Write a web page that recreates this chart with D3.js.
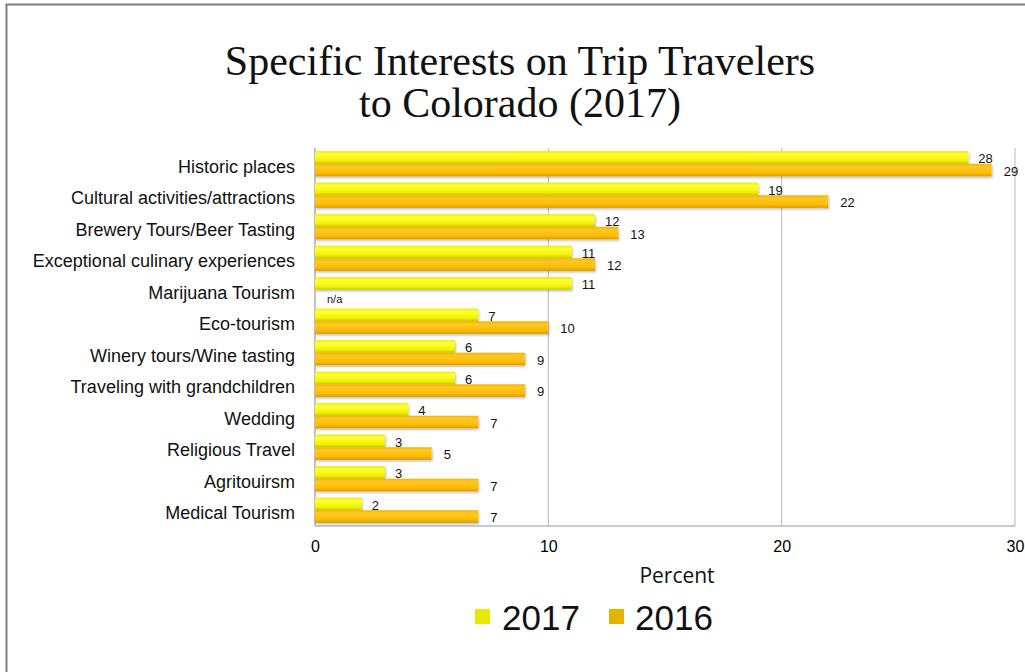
<!DOCTYPE html>
<html>
<head>
<meta charset="utf-8">
<script src="https://cdn.jsdelivr.net/npm/d3@7"></script>
<style>
  html, body { margin: 0; padding: 0; background: #fff; }
  svg { display: block; }
</style>
</head>
<body>
<svg id="chart" width="1025" height="672"></svg>
<script>
// ---- data ----
const categories = [
  "Historic places",
  "Cultural activities/attractions",
  "Brewery Tours/Beer Tasting",
  "Exceptional culinary experiences",
  "Marijuana Tourism",
  "Eco-tourism",
  "Winery tours/Wine tasting",
  "Traveling with grandchildren",
  "Wedding",
  "Religious Travel",
  "Agritouirsm",
  "Medical Tourism"
];
const values2017 = [28, 19, 12, 11, 11, 7, 6, 6, 4, 3, 3, 2];
const values2016 = [29, 22, 13, 12, null, 10, 9, 9, 7, 5, 7, 7];
const seriesNames = ["2017", "2016"];
const xTicks = [0, 10, 20, 30];
const titleLines = ["Specific Interests on Trip Travelers", "to Colorado (2017)"];
const xAxisTitle = "Percent";
const naLabel = "n/a";

// ---- layout ----
const svg = d3.select("#chart");
const plot = { left: 315, right: 1015, top: 148, bottom: 526 };

// slide frame
svg.append("rect")
  .attr("x", 6.5).attr("y", 4.5)
  .attr("width", 1040).attr("height", 700)
  .attr("fill", "#fff").attr("stroke", "#808080").attr("stroke-width", 2);

const defs = svg.append("defs");
const g17 = defs.append("linearGradient").attr("id", "g17").attr("x1", 0).attr("y1", 0).attr("x2", 0).attr("y2", 1);
[["0%", "#eeee00"], ["25%", "#ffff3a"], ["75%", "#f2f200"], ["100%", "#c9c900"]]
  .forEach(([o, c]) => g17.append("stop").attr("offset", o).attr("stop-color", c));
const g16 = defs.append("linearGradient").attr("id", "g16").attr("x1", 0).attr("y1", 0).attr("x2", 0).attr("y2", 1);
[["0%", "#f5b400"], ["25%", "#ffc826"], ["75%", "#fcbb00"], ["100%", "#d99a00"]]
  .forEach(([o, c]) => g16.append("stop").attr("offset", o).attr("stop-color", c));
const shadow = defs.append("filter").attr("id", "shadow").attr("x", "-5%").attr("y", "-30%").attr("width", "110%").attr("height", "180%");
shadow.append("feDropShadow").attr("dx", 1).attr("dy", 1.5).attr("stdDeviation", 1)
  .attr("flood-color", "#000").attr("flood-opacity", 0.25);

// title (two separate lines)
svg.append("g").selectAll("text").data(titleLines).join("text")
  .attr("x", 520).attr("y", (d, i) => 75 + i * 42)
  .attr("text-anchor", "middle")
  .attr("font-family", "'Liberation Serif', 'Times New Roman', serif")
  .attr("font-size", 42).attr("fill", "#111")
  .text(d => d);

// scales
const x = d3.scaleLinear().domain([0, 30]).range([plot.left, plot.right]);
const y = d3.scaleBand().domain(categories).range([plot.top, plot.bottom])
  .paddingInner(0.2).paddingOuter(0.1);
const ySub = d3.scaleBand().domain(seriesNames).range([0, y.bandwidth()]);

// gridlines
svg.append("g").selectAll("line").data(xTicks.filter(d => d > 0)).join("line")
  .attr("x1", d => x(d)).attr("x2", d => x(d))
  .attr("y1", plot.top).attr("y2", plot.bottom)
  .attr("stroke", "#b8b8b8").attr("stroke-width", 1);

// axis lines
svg.append("line").attr("x1", plot.left).attr("x2", plot.left)
  .attr("y1", plot.top).attr("y2", plot.bottom).attr("stroke", "#999").attr("stroke-width", 1.2);
svg.append("line").attr("x1", plot.left).attr("x2", plot.right)
  .attr("y1", plot.bottom).attr("y2", plot.bottom).attr("stroke", "#999").attr("stroke-width", 1.2);

// x axis tick labels via d3 axis
const xAxis = svg.append("g")
  .attr("transform", `translate(0,${plot.bottom})`)
  .call(d3.axisBottom(x).tickValues(xTicks).tickSize(0).tickPadding(15).tickFormat(d3.format("d")));
xAxis.select(".domain").remove();
xAxis.selectAll("text")
  .attr("font-family", "'Liberation Sans', Arial, sans-serif")
  .attr("font-size", 16).attr("fill", "#000");

// y axis labels
const yAxis = svg.append("g")
  .attr("transform", `translate(${plot.left},0)`)
  .call(d3.axisLeft(y).tickSize(0).tickPadding(20));
yAxis.select(".domain").remove();
yAxis.selectAll("text")
  .attr("font-family", "'Liberation Sans', Arial, sans-serif")
  .attr("font-size", 18).attr("fill", "#111")
  .attr("dy", "0.5em");

// bars
const rows = categories.map((c, i) => ({ cat: c, v17: values2017[i], v16: values2016[i] }));
const barG = svg.append("g");
const series = [
  { key: "2017", acc: d => d.v17, fill: "url(#g17)", dx: 10, dy: 1 },
  { key: "2016", acc: d => d.v16, fill: "url(#g16)", dx: 12, dy: 1 }
];
series.forEach(s => {
  barG.selectAll(null).data(rows.filter(d => s.acc(d) != null)).join("rect")
    .attr("x", x(0))
    .attr("y", d => y(d.cat) + ySub(s.key))
    .attr("width", d => x(s.acc(d)) - x(0))
    .attr("height", ySub.bandwidth())
    .attr("fill", s.fill)
    .attr("filter", "url(#shadow)");
  barG.selectAll(null).data(rows.filter(d => s.acc(d) != null)).join("text")
    .attr("x", d => x(s.acc(d)) + s.dx)
    .attr("y", d => y(d.cat) + ySub(s.key) + ySub.bandwidth() / 2 + s.dy)
    .attr("dy", "0.35em")
    .attr("font-family", "'Liberation Sans', Arial, sans-serif")
    .attr("font-size", 13).attr("fill", "#111")
    .text(d => s.acc(d));
});
// n/a label
rows.filter(d => d.v16 == null).forEach(d => {
  svg.append("text")
    .attr("x", x(0) + 12)
    .attr("y", y(d.cat) + ySub("2016") + ySub.bandwidth() / 2 + 7)
    .attr("font-family", "'Liberation Sans', Arial, sans-serif")
    .attr("font-size", 11).attr("fill", "#111")
    .text(naLabel);
});

// x axis title
svg.append("text")
  .attr("x", 677).attr("y", 583).attr("text-anchor", "middle")
  .attr("font-family", "'Open Sans', sans-serif")
  .attr("font-size", 21).attr("fill", "#111")
  .text(xAxisTitle);

// legend
const legendItems = [
  { name: seriesNames[0], color: "#e9e900", mx: 475, tx: 502 },
  { name: seriesNames[1], color: "#e2b600", mx: 609, tx: 635 }
];
const lg = svg.append("g");
lg.selectAll("rect").data(legendItems).join("rect")
  .attr("x", d => d.mx).attr("y", 609).attr("width", 15).attr("height", 15)
  .attr("fill", d => d.color);
lg.selectAll("text").data(legendItems).join("text")
  .attr("x", d => d.tx).attr("y", 630)
  .attr("font-family", "'Liberation Sans', Arial, sans-serif")
  .attr("font-size", 35).attr("fill", "#111")
  .text(d => d.name);
</script>
</body>
</html>
